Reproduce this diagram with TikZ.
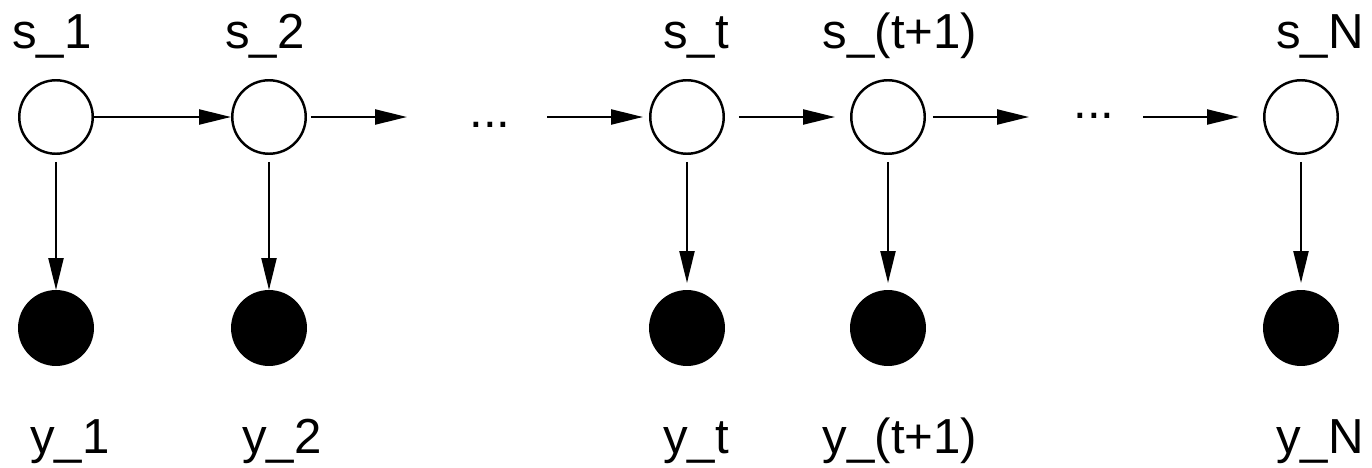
\documentclass[tikz,border=0pt]{standalone}
\usepackage{fontspec}
\setmainfont{Liberation Sans}
\usepackage{tikz}
\usetikzlibrary{arrows.meta}

\begin{document}
\begin{tikzpicture}[
    hidden/.style={circle, draw, line width=1.4pt, minimum size=1.47cm, inner sep=0pt},
    observed/.style={circle, draw, fill=black, line width=1.4pt, minimum size=1.47cm, inner sep=0pt},
    label/.style={anchor=base, inner sep=0pt, font=\fontsize{28}{34}\selectfont},
    link/.style={line width=1.3pt, -{Triangle[length=0.64cm, width=0.30cm]}}
  ]
    \useasboundingbox (0,0) rectangle (27.44,9.34);
    % hidden states
    \node [hidden] (s1) at (1.12, 7.00) {};
    \node [hidden] (s2) at (5.38, 7.00) {};
    \node [hidden] (st) at (13.74, 7.00) {};
    \node [hidden] (st1) at (17.76, 7.00) {};
    \node [hidden] (sN) at (26.02, 7.00) {};
    % observations
    \node [observed] (y1) at (1.12, 2.78) {};
    \node [observed] (y2) at (5.38, 2.78) {};
    \node [observed] (yt) at (13.74, 2.78) {};
    \node [observed] (yt1) at (17.76, 2.78) {};
    \node [observed] (yN) at (26.02, 2.78) {};
    % labels
    \node [label] (ls1) at (1.04, 8.38) {s\_1};
    \node [label] (ls2) at (5.30, 8.38) {s\_2};
    \node [label] (lst) at (13.92, 8.38) {s\_t};
    \node [label] (lst1) at (18.00, 8.38) {s\_(t+1)};
    \node [label] (lsN) at (26.40, 8.38) {s\_N};
    \node [label] (ly1) at (1.40, 0.28) {y\_1};
    \node [label] (ly2) at (5.64, 0.28) {y\_2};
    \node [label] (lyt) at (13.92, 0.28) {y\_t};
    \node [label] (lyt1) at (18.00, 0.28) {y\_(t+1)};
    \node [label] (lyN) at (26.40, 0.28) {y\_N};
    \node [label] (dots1) at (9.80, 6.80) {...};
    \node [label] (dots2) at (21.88, 6.98) {...};
    % free ends of the chain
    \coordinate (c1) at (8.14, 7.00);
    \coordinate (c2) at (10.94, 7.00);
    \coordinate (c3) at (20.58, 7.00);
    \coordinate (c4) at (22.86, 7.00);
    % transitions
    \draw [link] (s1) -- (s2);
    \draw [link, shorten <=0.08cm] (s2) -- (c1);
    \draw [link, shorten >=0.12cm] (c2) -- (st);
    \draw [link, shorten <=0.28cm, shorten >=0.30cm] (st) -- (st1);
    \draw [link, shorten <=0.14cm] (st1) -- (c3);
    \draw [link, shorten >=0.48cm] (c4) -- (sN);
    % emissions
    \draw [link, shorten <=0.14cm] (s1) -- (y1);
    \draw [link, shorten <=0.14cm] (s2) -- (y2);
    \draw [link, shorten <=0.14cm, shorten >=0.14cm] (st) -- (yt);
    \draw [link, shorten <=0.14cm, shorten >=0.14cm] (st1) -- (yt1);
    \draw [link, shorten <=0.14cm, shorten >=0.14cm] (sN) -- (yN);
\end{tikzpicture}
\end{document}
